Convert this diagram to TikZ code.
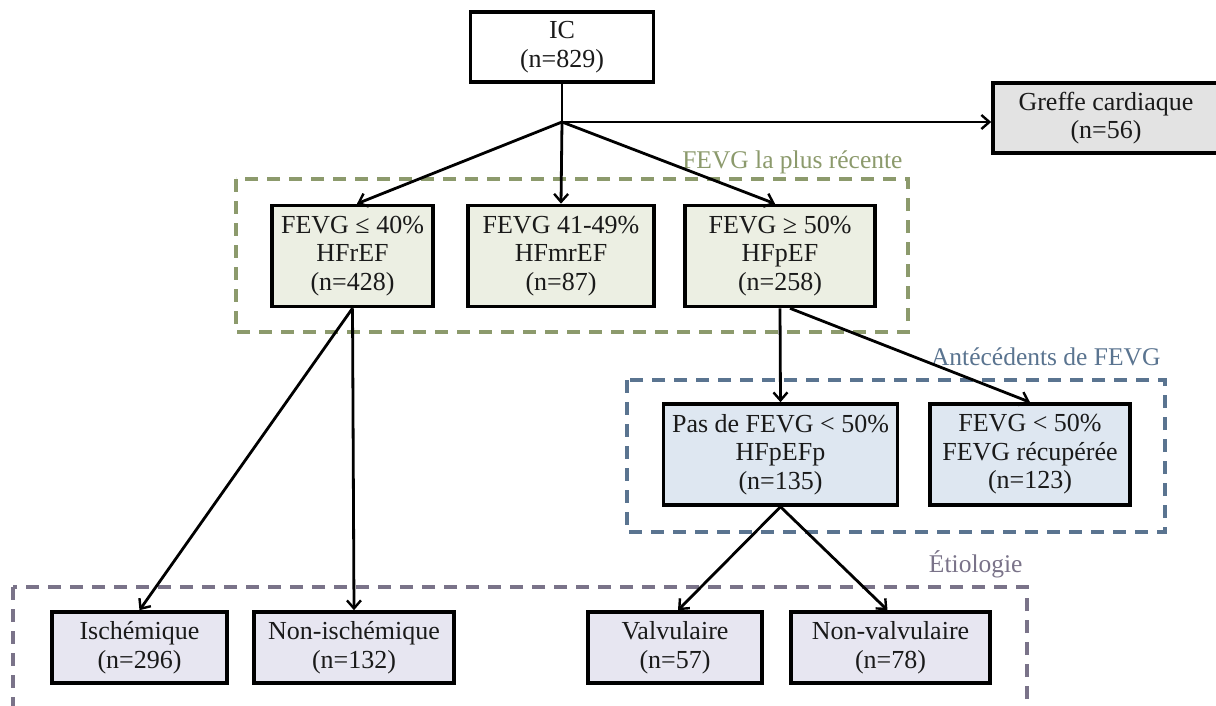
\documentclass[tikz,border=0pt]{standalone}
\usepackage{fontspec}
\setmainfont{Liberation Serif}
\usetikzlibrary{arrows.meta}
\definecolor{txt}{HTML}{1A1A1A}
\definecolor{gfill}{HTML}{ECEFE3}
\definecolor{bfill}{HTML}{DEE7F1}
\definecolor{pfill}{HTML}{E7E6F1}
\definecolor{grfill}{HTML}{E3E3E3}
\definecolor{gline}{HTML}{8C9A6C}
\definecolor{bline}{HTML}{5A7490}
\definecolor{pline}{HTML}{7A7389}
\begin{document}
\begin{tikzpicture}[x=1pt,y=-1pt,
  box/.style={draw=black, line width=3.6pt, align=center, inner sep=0pt,
    font=\fontsize{26}{28.5}\selectfont, text=txt},
  conn/.style={draw=black, line width=2.8pt},
  arr/.style={conn, -{Straight Barb[length=8pt,width=14pt,line width=2.4pt]}},
  grp/.style={line width=3.4pt, dash pattern=on 13pt off 9pt},
  grplbl/.style={anchor=base east, font=\fontsize{25.5}{28}\selectfont}]
\useasboundingbox (0,0) rectangle (1216,706);
\clip (0,0) rectangle (1216,706);
\fill[white] (0,0) rectangle (1216,706);

% group frames
\draw[grp, draw=gline] (236,179) rectangle (908,332);
\draw[grp, draw=bline] (627,380) rectangle (1165,532);
\draw[grp, draw=pline] (13,587) rectangle (1027,730);
\node[grplbl, text=gline] (lblg) at (906,168) {FEVG la plus récente};
\node[grplbl, text=bline] (lblb) at (1164,365) {Antécédents de FEVG};
\node[grplbl, text=pline] (lblp) at (1026,572) {Étiologie};

% nodes
\node[box, fill=white, minimum width=183pt, minimum height=70pt] (ic) at (562,47) {IC\\(n=829)};
\node[box, fill=grfill, minimum width=240pt, minimum height=70pt] (greffe) at (1113,118) {};
\node[font=\fontsize{26}{28.5}\selectfont, text=txt, align=center] (greffetxt) at (1106,118) {Greffe cardiaque\\(n=56)};
\node[box, fill=gfill, minimum width=161pt, minimum height=101pt] (hfref) at (352.5,256) {FEVG ≤ 40\%\\HFrEF\\(n=428)};
\node[box, fill=gfill, minimum width=186pt, minimum height=101pt] (hfmref) at (561,256) {FEVG 41-49\%\\HFmrEF\\(n=87)};
\node[box, fill=gfill, minimum width=190pt, minimum height=101pt] (hfpef) at (780,256) {FEVG ≥ 50\%\\HFpEF\\(n=258)};
\node[box, fill=bfill, minimum width=234pt, minimum height=101pt] (pas) at (780.5,454.5) {Pas de FEVG < 50\%\\HFpEFp\\(n=135)};
\node[box, fill=bfill, minimum width=200pt, minimum height=101pt] (rec) at (1030,454.5) {FEVG < 50\%\\FEVG récupérée\\(n=123)};
\node[box, fill=pfill, minimum width=175pt, minimum height=71pt] (isch) at (139.5,647.5) {Ischémique\\(n=296)};
\node[box, fill=pfill, minimum width=200pt, minimum height=71pt] (nonisch) at (354,647.5) {Non-ischémique\\(n=132)};
\node[box, fill=pfill, minimum width=174pt, minimum height=71pt] (valv) at (675,647.5) {Valvulaire\\(n=57)};
\node[box, fill=pfill, minimum width=199pt, minimum height=71pt] (nonvalv) at (890.5,647.5) {Non-valvulaire\\(n=78)};

% connectors
\coordinate (J) at (562,122);
\draw[conn] (ic.south) -- (J);
\draw[arr] (J) -- (J -| greffe.west);
\draw[arr] (J) -- ([xshift=4.5pt]hfref.north);
\draw[arr] (J) -- (hfmref.north);
\draw[arr] (J) -- ([xshift=-5pt]hfpef.north);
\draw[arr] (hfref.south) -- (isch.north);
\draw[arr] (hfref.south) -- (nonisch.north);
\draw[arr] (hfpef.south) -- (pas.north);
\draw[arr] ([xshift=10pt]hfpef.south) -- (rec.north);
\draw[arr] (pas.south) -- ([xshift=3pt]valv.north);
\draw[arr] (pas.south) -- ([xshift=-3pt]nonvalv.north);
\end{tikzpicture}
\end{document}
